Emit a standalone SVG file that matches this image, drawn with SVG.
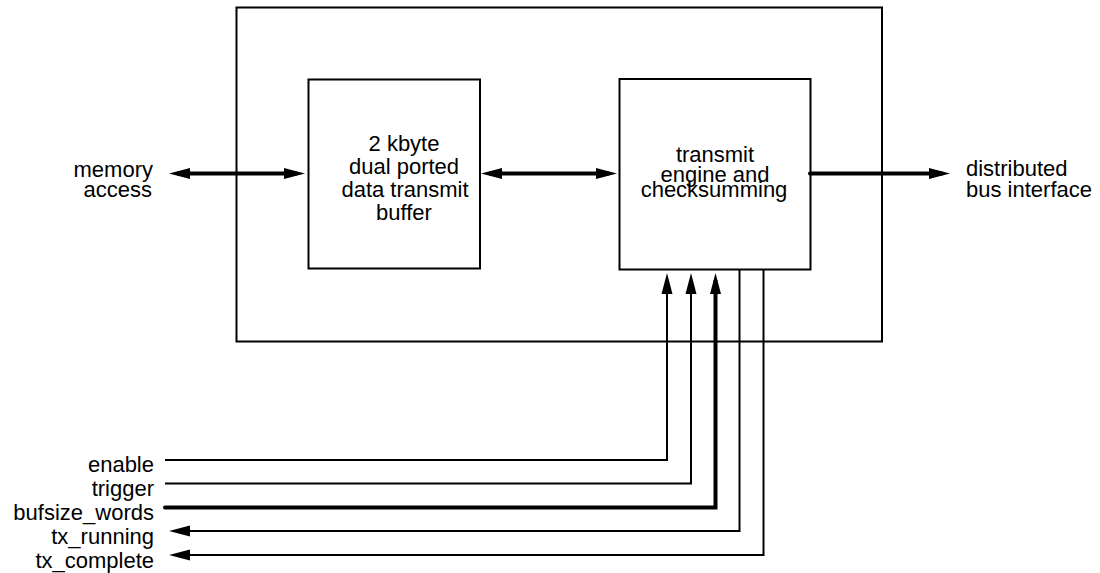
<svg xmlns="http://www.w3.org/2000/svg" width="1100" height="573" viewBox="0 0 1100 573">
<style>
.box{fill:none;stroke:#000;stroke-width:2}
.t{font-family:"Liberation Sans",Arial,sans-serif;font-size:22px;fill:#000}
.c{text-anchor:middle}
.e{text-anchor:end}
.w{fill:none;stroke:#000;stroke-width:2;stroke-linejoin:miter}
.k{fill:none;stroke:#000;stroke-width:4;stroke-linejoin:miter}
</style>
<defs>
<marker id="ah" markerUnits="userSpaceOnUse" markerWidth="22" markerHeight="12" refX="13" refY="6" orient="auto-start-reverse" viewBox="0 0 22 12">
<path d="M0,0.5 L21,6 L0,11.5 z" fill="#000"/>
</marker>
</defs>
<rect width="1100" height="573" fill="#fff"/>
<g id="outer"><rect class="box" x="236.5" y="7.5" width="645.5" height="334"/></g>
<g id="buffer">
<rect class="box" x="308.5" y="79.5" width="171.5" height="189"/>
<text class="t c" x="404" y="151">2 kbyte</text>
<text class="t c" x="404" y="174">dual ported</text>
<text class="t c" x="405" y="197">data transmit</text>
<text class="t c" x="404" y="220">buffer</text>
</g>
<g id="engine">
<rect class="box" x="619.5" y="79" width="191" height="190.5"/>
<text class="t c" x="715" y="162">transmit</text>
<text class="t c" x="715" y="182">engine and</text>
<text class="t c" x="714" y="197">checksumming</text>
</g>
<g id="memory">
<text class="t e" x="153" y="177">memory</text>
<text class="t e" x="152" y="197">access</text>
</g>
<g id="bus">
<text class="t" x="966" y="176">distributed</text>
<text class="t" x="966" y="197">bus interface</text>
</g>
<g id="signals">
<text class="t e" x="154" y="472">enable</text>
<text class="t e" x="154" y="496">trigger</text>
<text class="t e" x="154" y="520">bufsize_words</text>
<text class="t e" x="154" y="544">tx_running</text>
<text class="t e" x="154" y="568">tx_complete</text>
</g>
<g id="connectors">
<line class="k" x1="177" y1="173.5" x2="297" y2="173.5" marker-start="url(#ah)" marker-end="url(#ah)"/>
<line class="k" x1="489" y1="173.5" x2="609" y2="173.5" marker-start="url(#ah)" marker-end="url(#ah)"/>
<line class="k" x1="810" y1="173.5" x2="942" y2="173.5" marker-end="url(#ah)" stroke-linecap="round"/>
<path class="w" d="M165,460 H667 V281" marker-end="url(#ah)"/>
<path class="w" d="M165,483.5 H691 V281" marker-end="url(#ah)"/>
<path class="k" d="M165,507.5 H715.5 V281" marker-end="url(#ah)" stroke-linecap="round"/>
<path class="w" d="M739.5,269 V531 H177" marker-end="url(#ah)"/>
<path class="w" d="M763.5,269 V555 H177" marker-end="url(#ah)"/>
</g>
</svg>
